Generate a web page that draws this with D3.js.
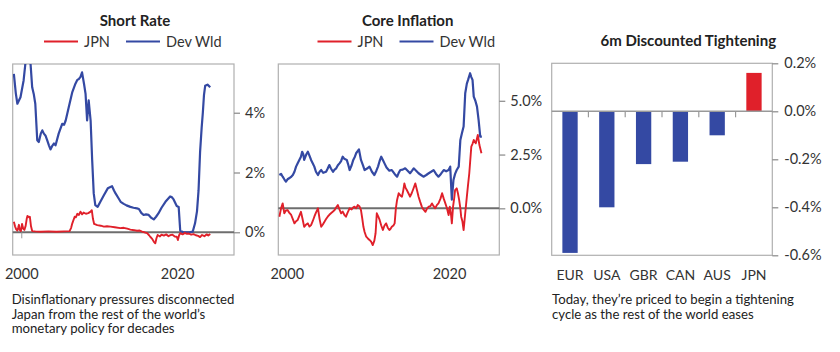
<!DOCTYPE html>
<html>
<head>
<meta charset="utf-8">
<script src="https://cdn.jsdelivr.net/npm/d3@7"></script>
<style>
  html, body { margin: 0; padding: 0; background: #fff; }
  svg { display: block; font-family: Lato, "Open Sans", sans-serif; }
</style>
</head>
<body>
<svg id="chart" width="840" height="352"></svg>
<script>
// ---------------- DATA ----------------
const legendLabels = ["JPN", "Dev Wld"];

// Short Rate (%), [year, value]
const shortRateDevWld = [[1999.05,5.3],[1999.3,4.65],[1999.5,4.3],[1999.9,4.52],[2000.3,5.08],[2000.55,5.7],[2000.8,6.1],[2001.05,5.9],[2001.2,5.6],[2001.4,4.85],[2001.6,4.63],[2001.8,4.3],[2002.05,3.08],[2002.25,3.02],[2002.5,3.3],[2002.7,3.41],[2002.9,3.3],[2003.1,3.24],[2003.3,3.1],[2003.55,2.91],[2003.75,2.77],[2004.0,2.9],[2004.2,2.97],[2004.4,2.91],[2004.8,3.3],[2005.25,3.63],[2005.5,3.6],[2005.7,3.74],[2006.1,4.19],[2006.55,4.69],[2006.95,4.97],[2007.2,5.1],[2007.4,5.13],[2007.6,5.2],[2007.8,5.35],[2008.05,4.97],[2008.25,4.63],[2008.45,3.74],[2008.65,4.41],[2008.9,3.74],[2009.1,2.41],[2009.3,1.3],[2009.5,0.91],[2009.8,0.85],[2010.15,1.02],[2010.6,1.24],[2011.1,1.47],[2011.65,1.54],[2011.9,1.4],[2012.1,1.3],[2012.5,1.13],[2012.75,1.02],[2013.15,0.95],[2013.5,0.9],[2014.0,0.85],[2014.4,0.82],[2014.85,0.8],[2015.1,0.78],[2015.4,0.65],[2015.7,0.58],[2016.0,0.6],[2016.35,0.58],[2016.7,0.48],[2017.0,0.43],[2017.3,0.52],[2017.6,0.63],[2018.0,0.82],[2018.5,1.02],[2019.1,1.2],[2019.3,1.18],[2019.55,1.1],[2019.95,0.88],[2020.2,0.85],[2020.4,0.05],[2020.8,0.0],[2021.2,0.0],[2021.6,0.0],[2022.0,0.02],[2022.3,0.3],[2022.55,0.7],[2022.75,1.4],[2022.95,2.7],[2023.15,3.5],[2023.3,4.0],[2023.45,4.6],[2023.6,4.9],[2023.9,4.94],[2024.25,4.85]];
const shortRateJPN = [[1999.05,0.35],[1999.2,0.2],[1999.35,0.1],[1999.5,0.06],[1999.6,0.15],[1999.7,0.25],[1999.8,0.08],[1999.95,0.04],[2000.1,0.28],[2000.25,0.12],[2000.4,0.08],[2000.55,0.2],[2000.7,0.45],[2000.8,0.55],[2001.0,0.5],[2001.1,0.52],[2001.25,0.2],[2001.4,0.04],[2001.8,0.03],[2002.5,0.02],[2003.5,0.03],[2004.5,0.02],[2005.5,0.03],[2006.2,0.04],[2006.4,0.15],[2006.55,0.3],[2006.85,0.52],[2007.0,0.5],[2007.2,0.62],[2007.4,0.58],[2007.6,0.69],[2007.8,0.6],[2008.0,0.66],[2008.3,0.62],[2008.6,0.64],[2008.9,0.69],[2009.05,0.74],[2009.2,0.45],[2009.35,0.28],[2009.75,0.24],[2010.2,0.22],[2010.6,0.19],[2011.0,0.2],[2011.45,0.19],[2012.0,0.17],[2012.7,0.14],[2013.15,0.15],[2013.6,0.12],[2014.0,0.09],[2014.5,0.07],[2014.85,0.05],[2015.2,0.06],[2015.5,0.02],[2015.8,0.0],[2016.15,-0.03],[2016.4,-0.1],[2016.55,-0.15],[2016.8,-0.22],[2017.0,-0.31],[2017.2,-0.37],[2017.35,-0.2],[2017.5,-0.09],[2017.8,-0.14],[2018.0,-0.08],[2018.3,-0.11],[2018.6,-0.07],[2018.9,-0.13],[2019.1,-0.1],[2019.4,-0.08],[2019.7,-0.14],[2019.95,-0.15],[2020.1,-0.26],[2020.25,-0.1],[2020.4,-0.03],[2020.7,-0.07],[2021.0,-0.02],[2021.2,-0.05],[2021.5,-0.04],[2021.8,-0.08],[2022.1,-0.06],[2022.4,-0.1],[2022.7,-0.12],[2022.95,-0.16],[2023.2,-0.09],[2023.5,-0.13],[2023.8,-0.07],[2024.0,-0.11],[2024.25,-0.06]];

// Core Inflation (%), [year, value]
const coreInflDevWld = [[1999.09,1.55],[1999.3,1.6],[1999.5,1.47],[1999.7,1.35],[1999.9,1.24],[2000.1,1.35],[2000.3,1.4],[2000.5,1.45],[2000.75,1.55],[2000.95,1.7],[2001.15,1.94],[2001.35,2.1],[2001.55,2.25],[2001.75,2.4],[2001.9,2.63],[2002.05,2.5],[2002.15,2.25],[2002.4,2.5],[2002.6,2.63],[2002.8,2.45],[2003.0,2.25],[2003.2,2.1],[2003.4,1.94],[2003.6,1.7],[2003.85,1.55],[2004.05,1.7],[2004.25,1.78],[2004.5,1.65],[2004.85,1.7],[2005.05,1.85],[2005.25,2.01],[2005.45,1.85],[2005.7,1.7],[2005.9,1.8],[2006.1,1.86],[2006.3,2.0],[2006.5,2.09],[2006.7,2.2],[2006.9,2.4],[2007.1,2.3],[2007.4,2.25],[2007.6,2.0],[2007.75,1.78],[2008.0,2.0],[2008.2,2.25],[2008.4,2.4],[2008.55,2.56],[2008.9,2.74],[2009.15,2.25],[2009.4,2.0],[2009.6,1.78],[2009.9,1.85],[2010.2,1.94],[2010.5,1.7],[2010.8,1.55],[2011.05,1.75],[2011.25,1.94],[2011.45,2.2],[2011.65,2.4],[2011.85,2.25],[2012.05,2.09],[2012.3,1.9],[2012.65,1.75],[2012.95,1.78],[2013.3,1.6],[2013.6,1.47],[2013.8,1.65],[2014.0,1.78],[2014.3,1.8],[2014.6,1.86],[2014.9,1.75],[2015.2,1.63],[2015.45,1.75],[2015.65,1.86],[2015.95,1.75],[2016.25,1.63],[2016.55,1.55],[2016.85,1.47],[2017.2,1.55],[2017.5,1.63],[2017.8,1.7],[2018.1,1.78],[2018.4,1.6],[2018.7,1.47],[2019.0,1.6],[2019.35,1.78],[2019.65,1.72],[2019.95,1.78],[2020.15,1.94],[2020.35,0.4],[2020.55,1.32],[2020.75,1.6],[2020.95,1.78],[2021.2,1.94],[2021.4,3.18],[2021.6,3.5],[2021.8,3.8],[2022.0,5.35],[2022.2,5.8],[2022.35,5.97],[2022.6,6.28],[2022.75,6.1],[2022.9,5.97],[2023.05,5.19],[2023.25,5.0],[2023.45,4.73],[2023.65,4.1],[2023.85,3.33],[2024.05,3.33]];
const coreInflJPN = [[1999.09,-0.39],[1999.3,0.0],[1999.5,0.23],[1999.7,-0.23],[1999.9,-0.1],[2000.1,-0.08],[2000.3,-0.2],[2000.55,-0.31],[2000.75,-0.5],[2000.95,-0.7],[2001.15,-0.6],[2001.35,-0.54],[2001.55,-0.35],[2001.75,-0.16],[2001.95,-0.5],[2002.15,-0.86],[2002.4,-0.75],[2002.6,-0.7],[2002.8,-0.85],[2003.0,-0.78],[2003.2,-0.6],[2003.4,-0.39],[2003.6,-0.2],[2003.85,0.0],[2004.05,-0.5],[2004.25,-0.86],[2004.45,-0.75],[2004.65,-0.62],[2004.85,-0.5],[2005.05,-0.39],[2005.25,-0.3],[2005.45,-0.23],[2005.7,-0.15],[2005.9,-0.08],[2006.1,0.05],[2006.3,0.15],[2006.5,-0.05],[2006.7,-0.23],[2006.9,-0.15],[2007.1,-0.3],[2007.3,-0.39],[2007.5,-0.2],[2007.75,0.0],[2008.0,-0.05],[2008.2,0.05],[2008.35,0.08],[2008.55,0.0],[2008.75,0.15],[2008.95,0.1],[2009.15,-0.08],[2009.3,-0.45],[2009.45,-0.86],[2009.6,-1.1],[2009.8,-1.32],[2010.0,-1.4],[2010.2,-1.47],[2010.4,-1.55],[2010.6,-1.71],[2010.8,-1.5],[2010.95,-1.16],[2011.1,-0.23],[2011.3,-0.4],[2011.45,-0.54],[2011.65,-0.8],[2011.85,-1.01],[2012.05,-0.8],[2012.25,-0.7],[2012.45,-0.9],[2012.65,-1.01],[2012.8,-0.95],[2012.95,-0.86],[2013.15,-0.8],[2013.3,-0.7],[2013.45,0.0],[2013.6,0.39],[2013.8,0.7],[2014.0,0.6],[2014.2,0.54],[2014.35,0.8],[2014.5,1.16],[2014.65,0.95],[2014.8,0.85],[2015.0,0.7],[2015.2,0.54],[2015.4,0.7],[2015.6,0.9],[2015.85,1.16],[2016.05,0.85],[2016.25,0.54],[2016.45,0.3],[2016.65,0.08],[2016.85,-0.05],[2017.1,-0.16],[2017.3,0.0],[2017.5,0.08],[2017.7,0.1],[2017.9,0.23],[2018.1,0.1],[2018.3,0.0],[2018.5,0.15],[2018.7,0.23],[2018.95,0.45],[2019.15,0.7],[2019.35,0.45],[2019.55,0.23],[2019.75,0.0],[2019.95,-0.31],[2020.1,0.08],[2020.25,-0.3],[2020.35,-0.7],[2020.5,0.08],[2020.65,0.5],[2020.75,0.85],[2020.95,0.93],[2021.1,0.7],[2021.25,0.39],[2021.4,0.0],[2021.5,-0.39],[2021.65,-0.6],[2021.8,-1.01],[2022.0,-0.23],[2022.2,0.54],[2022.35,1.1],[2022.5,1.63],[2022.75,2.87],[2022.9,3.0],[2023.05,3.18],[2023.3,3.02],[2023.55,3.41],[2023.75,2.94],[2024.0,2.56]];

// 6m Discounted Tightening
const countries = ["EUR", "USA", "GBR", "CAN", "AUS", "JPN"];
const tightening = [-0.59, -0.40, -0.22, -0.21, -0.10, 0.16];

// Axis ticks & labels
const yearTicks = [2000, 2020];
const srTicks = [0, 2, 4];
const srTickLabels = ["0%", "2%", "4%"];
const ciTicks = [0, 2.5, 5];
const ciTickLabels = ["0.0%", "2.5%", "5.0%"];
const tgTicks = [0.2, 0, -0.2, -0.4, -0.6];
const tgTickLabels = ["0.2%", "0.0%", "-0.2%", "-0.4%", "-0.6%"];

const titles = ["Short Rate", "Core Inflation", "6m Discounted Tightening"];
const notes = [
  ["Disinflationary pressures disconnected", "Japan from the rest of the world\u2019s", "monetary policy for decades"],
  ["Today, they\u2019re priced to begin a tightening", "cycle as the rest of the world eases"]
];

// ---------------- STYLE ----------------
const RED = "#e0202a", BLUE = "#3449a3", FRAME = "#b0b0b0", ZERO = "#6e6e6e", TEXT = "#222";
const svg = d3.select("#chart");

function linePanel(cfg) {
  const { x0, x1, y0, y1, xDomain, yDomain, jpn, dev, ticks, tickLabels, title, titleX, leg } = cfg;
  const x = d3.scaleLinear().domain(xDomain).range([x0, x1]);
  const y = d3.scaleLinear().domain(yDomain).range([y1, y0]);
  const g = svg.append("g");

  g.append("text").attr("x", titleX).attr("y", 25.5).attr("text-anchor", "middle")
    .attr("font-size", 15).attr("font-weight", 700).attr("fill", TEXT).text(title);
  const legItems = [{c: RED, t: legendLabels[0], lx: leg[0]}, {c: BLUE, t: legendLabels[1], lx: leg[1]}];
  legItems.forEach(d => {
    g.append("line").attr("x1", d.lx).attr("x2", d.lx + 34).attr("y1", 41.5).attr("y2", 41.5)
      .attr("stroke", d.c).attr("stroke-width", 2);
    g.append("text").attr("x", d.lx + 40).attr("y", 46.5).attr("font-size", 14.5).attr("fill", "#333").text(d.t);
  });

  g.append("rect").attr("x", x0).attr("y", y0).attr("width", x1 - x0).attr("height", y1 - y0)
    .attr("fill", "none").attr("stroke", FRAME).attr("stroke-width", 1.2);

  const ya = g.append("g").attr("transform", `translate(${x1},0)`)
    .call(d3.axisRight(y).tickValues(ticks).tickSize(6).tickPadding(5)
      .tickFormat((d, i) => tickLabels[i]));
  ya.select(".domain").remove();
  ya.selectAll(".tick line").attr("stroke", "#888").attr("stroke-width", 1.2);
  ya.selectAll(".tick text").attr("font-size", 14.5).attr("fill", "#333").attr("font-family", "Lato, sans-serif");

  const xa = g.append("g").attr("transform", `translate(0,${y1})`)
    .call(d3.axisBottom(x).tickValues(yearTicks).tickSize(0).tickPadding(14).tickFormat(d3.format("d")));
  xa.select(".domain").remove();
  xa.selectAll(".tick text").attr("font-size", 14.5).attr("fill", "#333").attr("font-family", "Lato, sans-serif");

  g.append("line").attr("x1", x0).attr("x2", x1).attr("y1", y(0)).attr("y2", y(0))
    .attr("stroke", ZERO).attr("stroke-width", 2);

  if (cfg.zeroTick) {
    const za = g.append("g").attr("transform", `translate(0,${y(0)})`)
      .call(d3.axisBottom(x).tickValues([yearTicks[0]]).tickSize(6).tickFormat(""));
    za.select(".domain").remove();
    za.selectAll(".tick line").attr("stroke", "#999");
  }

  const clipId = "clip" + Math.round(x0);
  svg.append("clipPath").attr("id", clipId).append("rect")
    .attr("x", x0).attr("y", y0).attr("width", x1 - x0).attr("height", y1 - y0);
  const line = d3.line().x(d => x(d[0])).y(d => y(d[1])).curve(d3.curveLinear);
  const lg = g.append("g").attr("clip-path", `url(#${clipId})`);
  lg.append("path").datum(dev).attr("d", line).attr("fill", "none").attr("stroke", BLUE)
    .attr("stroke-width", 2.2).attr("stroke-linejoin", "round");
  lg.append("path").datum(jpn).attr("d", line).attr("fill", "none").attr("stroke", RED)
    .attr("stroke-width", 1.9).attr("stroke-linejoin", "round");
}

linePanel({ x0: 12.7, x1: 234, y0: 64, y1: 255, xDomain: [1998.9, 2027.3], yDomain: [-0.76, 5.63],
  jpn: shortRateJPN, dev: shortRateDevWld, ticks: srTicks, tickLabels: srTickLabels,
  title: titles[0], titleX: 135, leg: [44, 126], zeroTick: true });

linePanel({ x0: 278.3, x1: 499.3, y0: 64, y1: 255, xDomain: [1998.96, 2026.2], yDomain: [-2.17, 6.71],
  jpn: coreInflJPN, dev: coreInflDevWld, ticks: ciTicks, tickLabels: ciTickLabels,
  title: titles[1], titleX: 407.7, leg: [317.5, 399.5], zeroTick: false });

// ---------------- BAR PANEL ----------------
(function () {
  const x0 = 551.7, x1 = 772.3, y0 = 63.3, y1 = 255.3;
  const g = svg.append("g");
  const x = d3.scaleBand().domain(countries).range([x0, x1]).paddingInner(0.584).paddingOuter(0.29);
  const y = d3.scaleLinear().domain([-0.6, 0.2]).range([y1, y0]);

  g.append("text").attr("x", 688.3).attr("y", 46).attr("text-anchor", "middle")
    .attr("font-size", 15).attr("font-weight", 700).attr("fill", TEXT).text(titles[2]);

  g.append("rect").attr("x", x0).attr("y", y0).attr("width", x1 - x0).attr("height", y1 - y0)
    .attr("fill", "none").attr("stroke", FRAME).attr("stroke-width", 1.2);

  const ya = g.append("g").attr("transform", `translate(${x1},0)`)
    .call(d3.axisRight(y).tickValues(tgTicks).tickSize(6).tickPadding(6)
      .tickFormat((d, i) => tgTickLabels[i]));
  ya.select(".domain").remove();
  ya.selectAll(".tick line").attr("stroke", "#888").attr("stroke-width", 1.2);
  ya.selectAll(".tick text").attr("font-size", 14.5).attr("fill", "#333").attr("font-family", "Lato, sans-serif");

  g.selectAll("rect.bar").data(countries).join("rect").attr("class", "bar")
    .attr("x", d => x(d)).attr("width", x.bandwidth())
    .attr("y", (d, i) => y(Math.max(0, tightening[i])))
    .attr("height", (d, i) => Math.abs(y(tightening[i]) - y(0)))
    .attr("fill", (d, i) => tightening[i] >= 0 ? RED : BLUE);

  g.append("line").attr("x1", x0).attr("x2", x1).attr("y1", y(0)).attr("y2", y(0))
    .attr("stroke", "#999").attr("stroke-width", 1.5);
  g.selectAll("line.sep").data(countries.slice(0, -1)).join("line").attr("class", "sep")
    .attr("x1", d => x(d) + x.bandwidth() / 2 + x.step() / 2)
    .attr("x2", d => x(d) + x.bandwidth() / 2 + x.step() / 2)
    .attr("y1", y(0)).attr("y2", y(0) + 6).attr("stroke", "#999").attr("stroke-width", 1.2);

  const xa = g.append("g").attr("transform", `translate(0,${y1})`)
    .call(d3.axisBottom(x).tickSize(0).tickPadding(15));
  xa.select(".domain").remove();
  xa.selectAll(".tick text").attr("font-size", 14).attr("fill", "#333").attr("font-family", "Lato, sans-serif");
})();

// ---------------- NOTES ----------------
function note(lines, nx, ny) {
  const t = svg.append("text").attr("x", nx).attr("y", ny).attr("font-size", 13.2).attr("fill", TEXT);
  lines.forEach((l, i) => t.append("tspan").attr("x", nx).attr("dy", i === 0 ? 0 : 14.6).text(l));
}
note(notes[0], 11.7, 304);
note(notes[1], 552, 304);
</script>
</body>
</html>
